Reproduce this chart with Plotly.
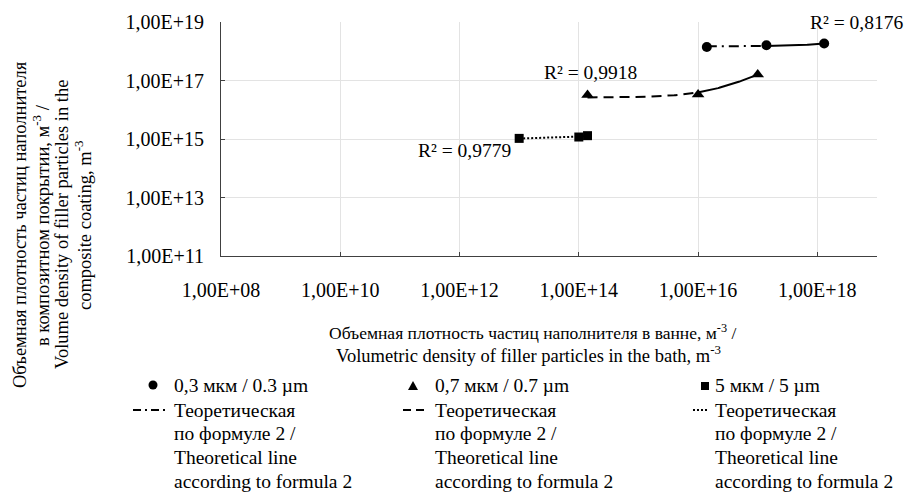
import numpy as np
import plotly.graph_objects as go

# ---------------- data ----------------
x_03 = [1.4e16, 1.4e17, 1.3e18]
y_03 = [1.4e18, 1.6e18, 1.85e18]
x_07 = [1.4e14, 1.0e16, 1.0e17]
y_07 = [3.2e16, 3.3e16, 1.6e17]
x_5 = [1.0e13, 1.0e14, 1.4e14]
y_5 = [1.05e15, 1.17e15, 1.3e15]
r2_texts = ["R² = 0,8176", "R² = 0,9918", "R² = 0,9779"]
x_tick_exp = [8, 10, 12, 14, 16, 18]
y_tick_exp = [11, 13, 15, 17, 19]
legend_marker_labels = ["0,3 мкм / 0.3 µm", "0,7 мкм / 0.7 µm", "5 мкм / 5 µm"]
legend_line_lines = ["Теоретическая", "по формуле 2 /", "Theoretical line", "according to formula 2"]
x_title = ["Объемная плотность частиц наполнителя в ванне, м<sup>-3</sup> /",
           "Volumetric density of filler particles in the bath, m<sup>-3</sup>"]
y_title = ["Объемная плотность частиц наполнителя",
           "в композитном покрытии, м<sup>-3</sup> /",
           "Volume density of filler particles in the",
           "composite coating, m<sup>-3</sup>"]

FONT = "Liberation Serif, Times New Roman, serif"
W, H = 905, 493
L, R, T, B = 221, 28, 22, 237
PW, PH = W - L - R, H - T - B


def X(px):
    return (px - L) / PW


def Y(py):
    return (H - B - py) / PH


def trend(xs, ys, n=160):
    b, a = np.polyfit(np.array(xs), np.array(ys), 1)
    xt = np.geomspace(min(xs), max(xs), n)
    return xt, a + b * xt


fig = go.Figure()

series = [
    (x_03, y_03, "circle", 10, "10px,5px,2px,5px", True),
    (x_07, y_07, "triangle-up", 11, "10px,6px", True),
    (x_5, y_5, "square", 9, "2px,2px", False),
]

for xs, ys, sym, size, dash, split in series:
    xt, yt = trend(xs, ys)
    if split:
        m = xs[1]
        left = xt <= m * 1.0001
        right = xt >= m * 0.9999
        fig.add_trace(go.Scatter(x=xt[left], y=yt[left], mode="lines",
                                 line=dict(color="black", width=2, dash=dash),
                                 hoverinfo="skip"))
        fig.add_trace(go.Scatter(x=xt[right], y=yt[right], mode="lines",
                                 line=dict(color="black", width=2),
                                 hoverinfo="skip"))
    else:
        fig.add_trace(go.Scatter(x=xt, y=yt, mode="lines",
                                 line=dict(color="black", width=2, dash=dash),
                                 hoverinfo="skip"))

for xs, ys, sym, size, dash, split in series:
    fig.add_trace(go.Scatter(x=xs, y=ys, mode="markers",
                             marker=dict(symbol=sym, size=size, color="black",
                                         line=dict(width=0))))

axis_common = dict(
    type="log", showgrid=True, gridcolor="#e3e3e3", gridwidth=1,
    showline=True, linecolor="#404040", linewidth=1,
    ticks="inside", ticklen=4, tickcolor="#404040",
    tickfont=dict(family=FONT, size=20, color="black"),
    zeroline=False,
)

fig.update_xaxes(**axis_common, range=[8, 19],
                 tickvals=[10.0 ** e for e in x_tick_exp],
                 ticktext=["1,00E+%02d" % e for e in x_tick_exp],
                 ticklabelstandoff=16)
fig.update_yaxes(**axis_common, range=[11, 19],
                 tickvals=[10.0 ** e for e in y_tick_exp],
                 ticktext=["1,00E+%02d" % e for e in y_tick_exp],
                 ticklabelstandoff=12)

ann = []
# R^2 labels
for txt, (px, py) in zip(r2_texts, [(808, 22), (542, 72), (416, 150)]):
    ann.append(dict(x=X(px), y=Y(py), xref="paper", yref="paper", text=txt,
                    showarrow=False, xanchor="left", yanchor="middle",
                    font=dict(family=FONT, size=19.5, color="black")))

# x axis title (two lines)
for txt, (cx, cy, fs) in zip(x_title, [(532, 332, 17.5), (528, 354, 18.5)]):
    ann.append(dict(x=X(cx), y=Y(cy), xref="paper", yref="paper", text=txt,
                    showarrow=False, xanchor="center", yanchor="middle",
                    font=dict(family=FONT, size=fs, color="black")))

# y axis title (4 rotated lines)
for txt, cx in zip(y_title, [20, 41, 62, 83]):
    ann.append(dict(x=X(cx), y=Y(225), xref="paper", yref="paper", text=txt,
                    textangle=-90, showarrow=False, xanchor="center", yanchor="middle",
                    font=dict(family=FONT, size=18.5, color="black")))

# custom legend
col_text_x = [172, 433, 713]
col_marker_x = [153, 413, 705]
col_line = [(133, 167, "8px,4px,2px,4px"), (403, 427, "8px,5px"), (693, 708, "2px,2px")]
row_y = [385, 410, 433, 457, 481]
for i in range(3):
    ann.append(dict(x=X(col_text_x[i]), y=Y(row_y[0]), xref="paper", yref="paper",
                    text=legend_marker_labels[i], showarrow=False,
                    xanchor="left", yanchor="middle",
                    font=dict(family=FONT, size=19.5, color="black")))
    for j, line_txt in enumerate(legend_line_lines):
        ann.append(dict(x=X(col_text_x[i]), y=Y(row_y[j + 1]), xref="paper", yref="paper",
                        text=line_txt, showarrow=False,
                        xanchor="left", yanchor="middle",
                        font=dict(family=FONT, size=19.5, color="black")))

shapes = []
# legend markers
cx, cy, r = col_marker_x[0], row_y[0], 4.5
shapes.append(dict(type="circle", xref="paper", yref="paper",
                   x0=X(cx - r), x1=X(cx + r), y0=Y(cy + r), y1=Y(cy - r),
                   fillcolor="black", line=dict(width=0)))
cx, cy = col_marker_x[1], row_y[0] + 1
shapes.append(dict(type="path", xref="paper", yref="paper",
                   path="M %f %f L %f %f L %f %f Z" % (X(cx - 5), Y(cy + 4), X(cx + 5), Y(cy + 4), X(cx), Y(cy - 5)),
                   fillcolor="black", line=dict(width=0)))
cx, cy, r = col_marker_x[2], row_y[0] + 1, 4
shapes.append(dict(type="rect", xref="paper", yref="paper",
                   x0=X(cx - r), x1=X(cx + r), y0=Y(cy + r), y1=Y(cy - r),
                   fillcolor="black", line=dict(width=0)))
for (x0, x1, dash) in col_line:
    shapes.append(dict(type="line", xref="paper", yref="paper",
                       x0=X(x0), x1=X(x1), y0=Y(row_y[1]), y1=Y(row_y[1]),
                       line=dict(color="black", width=2, dash=dash)))

fig.update_layout(
    width=W, height=H,
    margin=dict(l=L, r=R, t=T, b=B),
    paper_bgcolor="white", plot_bgcolor="white",
    showlegend=False,
    annotations=ann, shapes=shapes,
    font=dict(family=FONT, color="black"),
)

fig.write_html("out.html")
